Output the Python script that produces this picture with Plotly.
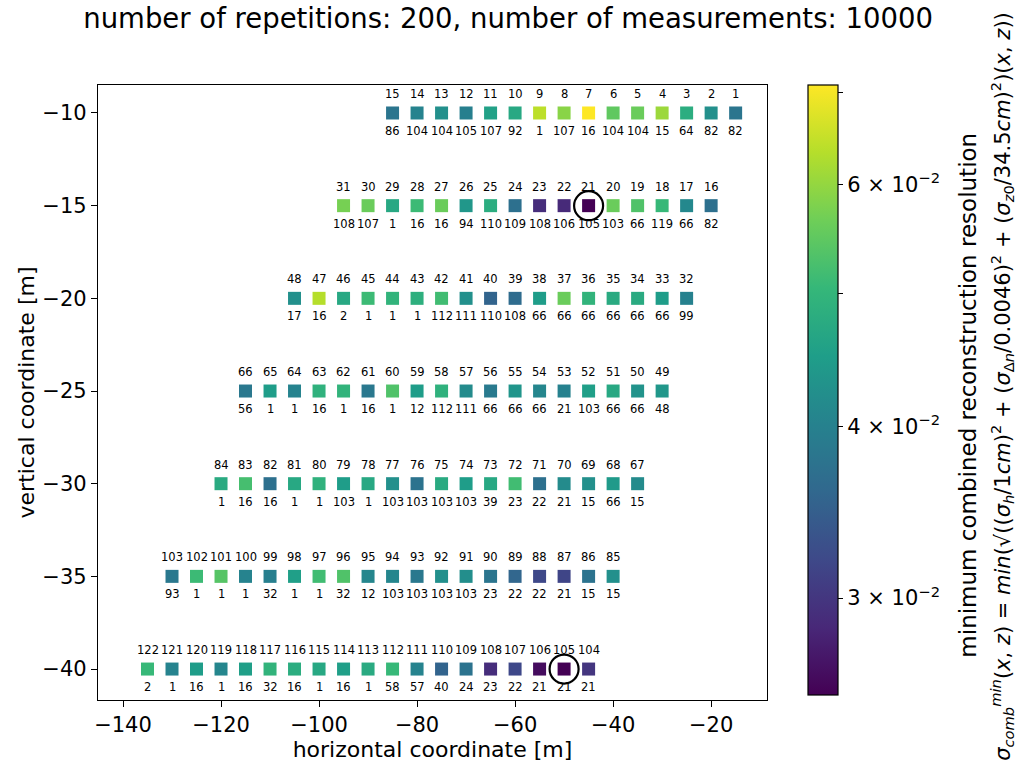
import numpy as np
import plotly.graph_objects as go

# ---- data ----
point_id = [
    1, 2, 3, 4, 5, 6, 7, 8, 9, 10, 11, 12, 13, 14, 15,
    16, 17, 18, 19, 20, 21, 22, 23, 24, 25, 26, 27, 28, 29, 30, 31,
    32, 33, 34, 35, 36, 37, 38, 39, 40, 41, 42, 43, 44, 45, 46, 47, 48,
    49, 50, 51, 52, 53, 54, 55, 56, 57, 58, 59, 60, 61, 62, 63, 64, 65, 66,
    67, 68, 69, 70, 71, 72, 73, 74, 75, 76, 77, 78, 79, 80, 81, 82, 83, 84,
    85, 86, 87, 88, 89, 90, 91, 92, 93, 94, 95, 96, 97, 98, 99, 100, 101, 102, 103,
    104, 105, 106, 107, 108, 109, 110, 111, 112, 113, 114, 115, 116, 117, 118, 119, 120, 121, 122,
]
x_pos = [
    -15, -20, -25, -30, -35, -40, -45, -50, -55, -60, -65, -70, -75, -80, -85,
    -20, -25, -30, -35, -40, -45, -50, -55, -60, -65, -70, -75, -80, -85, -90, -95,
    -25, -30, -35, -40, -45, -50, -55, -60, -65, -70, -75, -80, -85, -90, -95, -100, -105,
    -30, -35, -40, -45, -50, -55, -60, -65, -70, -75, -80, -85, -90, -95, -100, -105, -110, -115,
    -35, -40, -45, -50, -55, -60, -65, -70, -75, -80, -85, -90, -95, -100, -105, -110, -115, -120,
    -40, -45, -50, -55, -60, -65, -70, -75, -80, -85, -90, -95, -100, -105, -110, -115, -120, -125, -130,
    -45, -50, -55, -60, -65, -70, -75, -80, -85, -90, -95, -100, -105, -110, -115, -120, -125, -130, -135,
]
z_pos = [-10] * 15 + [-15] * 16 + [-20] * 17 + [-25] * 18 + [-30] * 18 + [-35] * 19 + [-40] * 19
best_config = [
    82, 82, 64, 15, 104, 104, 16, 107, 1, 92, 107, 105, 104, 104, 86,
    82, 66, 119, 66, 103, 105, 106, 108, 109, 110, 94, 16, 16, 1, 107, 108,
    99, 66, 66, 66, 66, 66, 66, 108, 110, 111, 112, 1, 1, 1, 2, 16, 17,
    48, 66, 66, 103, 21, 66, 66, 66, 111, 112, 12, 1, 16, 1, 16, 1, 1, 56,
    15, 66, 15, 21, 22, 23, 39, 103, 103, 103, 103, 1, 103, 1, 1, 16, 16, 1,
    15, 15, 21, 22, 22, 23, 103, 103, 103, 103, 12, 32, 1, 1, 32, 1, 1, 1, 93,
    21, 21, 21, 22, 23, 24, 40, 57, 58, 1, 16, 1, 16, 32, 16, 1, 16, 1, 2,
]
resolution = [
    0.0380, 0.0425, 0.0481, 0.0608, 0.0560, 0.0549, 0.0709, 0.0590, 0.0640, 0.0471, 0.0457, 0.0396, 0.0425, 0.0404, 0.0380,
    0.0372, 0.0412, 0.0506, 0.0532, 0.0560, 0.0255, 0.0288, 0.0291, 0.0372, 0.0481, 0.0438, 0.0560, 0.0511, 0.0471, 0.0560, 0.0572,
    0.0400, 0.0448, 0.0476, 0.0476, 0.0496, 0.0560, 0.0448, 0.0365, 0.0354, 0.0425, 0.0516, 0.0486, 0.0496, 0.0511, 0.0471, 0.0633, 0.0425,
    0.0438, 0.0430, 0.0471, 0.0452, 0.0400, 0.0408, 0.0434, 0.0388, 0.0417, 0.0491, 0.0448, 0.0532, 0.0384, 0.0496, 0.0491, 0.0404, 0.0448, 0.0384,
    0.0417, 0.0443, 0.0425, 0.0417, 0.0372, 0.0516, 0.0471, 0.0448, 0.0476, 0.0376, 0.0425, 0.0471, 0.0448, 0.0491, 0.0471, 0.0372, 0.0522, 0.0476,
    0.0425, 0.0376, 0.0316, 0.0319, 0.0357, 0.0380, 0.0421, 0.0425, 0.0384, 0.0408, 0.0408, 0.0532, 0.0516, 0.0452, 0.0396, 0.0404, 0.0538, 0.0511, 0.0384,
    0.0300, 0.0255, 0.0263, 0.0319, 0.0291, 0.0376, 0.0354, 0.0404, 0.0506, 0.0476, 0.0452, 0.0471, 0.0481, 0.0496, 0.0452, 0.0408, 0.0448, 0.0404, 0.0506,
]
highlight_ids = [21, 105]
cbar_ticks = [0.03, 0.04, 0.05, 0.06, 0.07]
cbar_labels = ["3 × 10<sup>−2</sup>", "4 × 10<sup>−2</sup>", "", "6 × 10<sup>−2</sup>", ""]
x_ticks = [-140, -120, -100, -80, -60, -40, -20]
y_ticks = [-10, -15, -20, -25, -30, -35, -40]

FONT = "DejaVu Sans"
log_res = np.log10(resolution)

fig = go.Figure()
fig.add_trace(go.Scatter(
    x=x_pos, y=z_pos, mode="markers",
    marker=dict(
        symbol="square", size=13, color=log_res, colorscale="Viridis",
        cmin=log_res.min(), cmax=log_res.max(), line=dict(width=0),
        colorbar=dict(
            tickmode="array", tickvals=np.log10(cbar_ticks).tolist(), ticktext=cbar_labels,
            ticks="outside", ticklen=5, tickcolor="black",
            tickfont=dict(family=FONT, size=21, color="black"),
            thickness=30, len=610, lenmode="pixels", xpad=0, ypad=0,
            x=1.061, xanchor="left", xref="paper", y=1.0, yanchor="top",
            outlinecolor="black", outlinewidth=1.2,
        ),
    ),
    showlegend=False, hoverinfo="skip",
))

hx = [x_pos[point_id.index(i)] for i in highlight_ids]
hz = [z_pos[point_id.index(i)] for i in highlight_ids]
fig.add_trace(go.Scatter(
    x=hx, y=hz, mode="markers",
    marker=dict(symbol="circle-open", size=29, color="black", line=dict(width=2.2, color="black")),
    showlegend=False, hoverinfo="skip",
))

annotations = []
for i, xv, zv, b in zip(point_id, x_pos, z_pos, best_config):
    annotations.append(dict(x=xv, y=zv, xref="x", yref="y", text=str(i), showarrow=False,
                            yshift=19, font=dict(family=FONT, size=11.5, color="black")))
    annotations.append(dict(x=xv, y=zv, xref="x", yref="y", text=str(b), showarrow=False,
                            yshift=-18, font=dict(family=FONT, size=11.5, color="black")))

annotations.append(dict(
    x=1.300, y=0.496, xref="paper", yref="paper", textangle=-90, showarrow=False,
    xanchor="center", yanchor="middle",
    text="minimum combined reconstruction resolution",
    font=dict(family=FONT, size=23, color="black")))
annotations.append(dict(
    x=1.352, y=0.51, xref="paper", yref="paper", textangle=-90, showarrow=False,
    xanchor="center", yanchor="middle",
    text="<i>σ</i><sub><i>comb</i></sub><sup><i>min</i></sup>(<i>x</i>, <i>z</i>) = <i>min</i>(√((<i>σ</i><sub><i>h</i></sub>/1<i>cm</i>)<sup>2</sup> + (<i>σ</i><sub>Δ<i>n</i></sub>/0.0046)<sup>2</sup> + (<i>σ</i><sub><i>z</i>0</sub>/34.5<i>cm</i>)<sup>2</sup>)(<i>x</i>, <i>z</i>))",
    font=dict(family=FONT, size=21, color="black")))

fig.update_layout(
    width=1019, height=774,
    margin=dict(l=98, r=252, t=85, b=74),
    paper_bgcolor="white", plot_bgcolor="white",
    font=dict(family=FONT, color="black"),
    title=dict(text="number of repetitions: 200, number of measurements: 10000",
               x=0.613, xref="paper", xanchor="center", y=0.976, yref="container", yanchor="middle",
               font=dict(family=FONT, size=27.5, color="black")),
    annotations=annotations,
)
fig.update_xaxes(
    range=[-145.1, -8.6], tickvals=x_ticks, showgrid=False, zeroline=False,
    showline=True, linecolor="black", linewidth=1.2, mirror=True,
    ticks="outside", ticklen=6, tickcolor="black",
    tickfont=dict(family=FONT, size=21, color="black"),
    title=dict(text="horizontal coordinate [m]", font=dict(family=FONT, size=22, color="black"), standoff=5),
)
fig.update_yaxes(
    range=[-41.67, -8.49], tickvals=y_ticks, showgrid=False, zeroline=False,
    showline=True, linecolor="black", linewidth=1.2, mirror=True,
    ticks="outside", ticklen=6, tickcolor="black",
    tickfont=dict(family=FONT, size=21, color="black"),
    title=dict(text="vertical coordinate [m]", font=dict(family=FONT, size=22, color="black"), standoff=1),
)

fig.write_html("out.html")
